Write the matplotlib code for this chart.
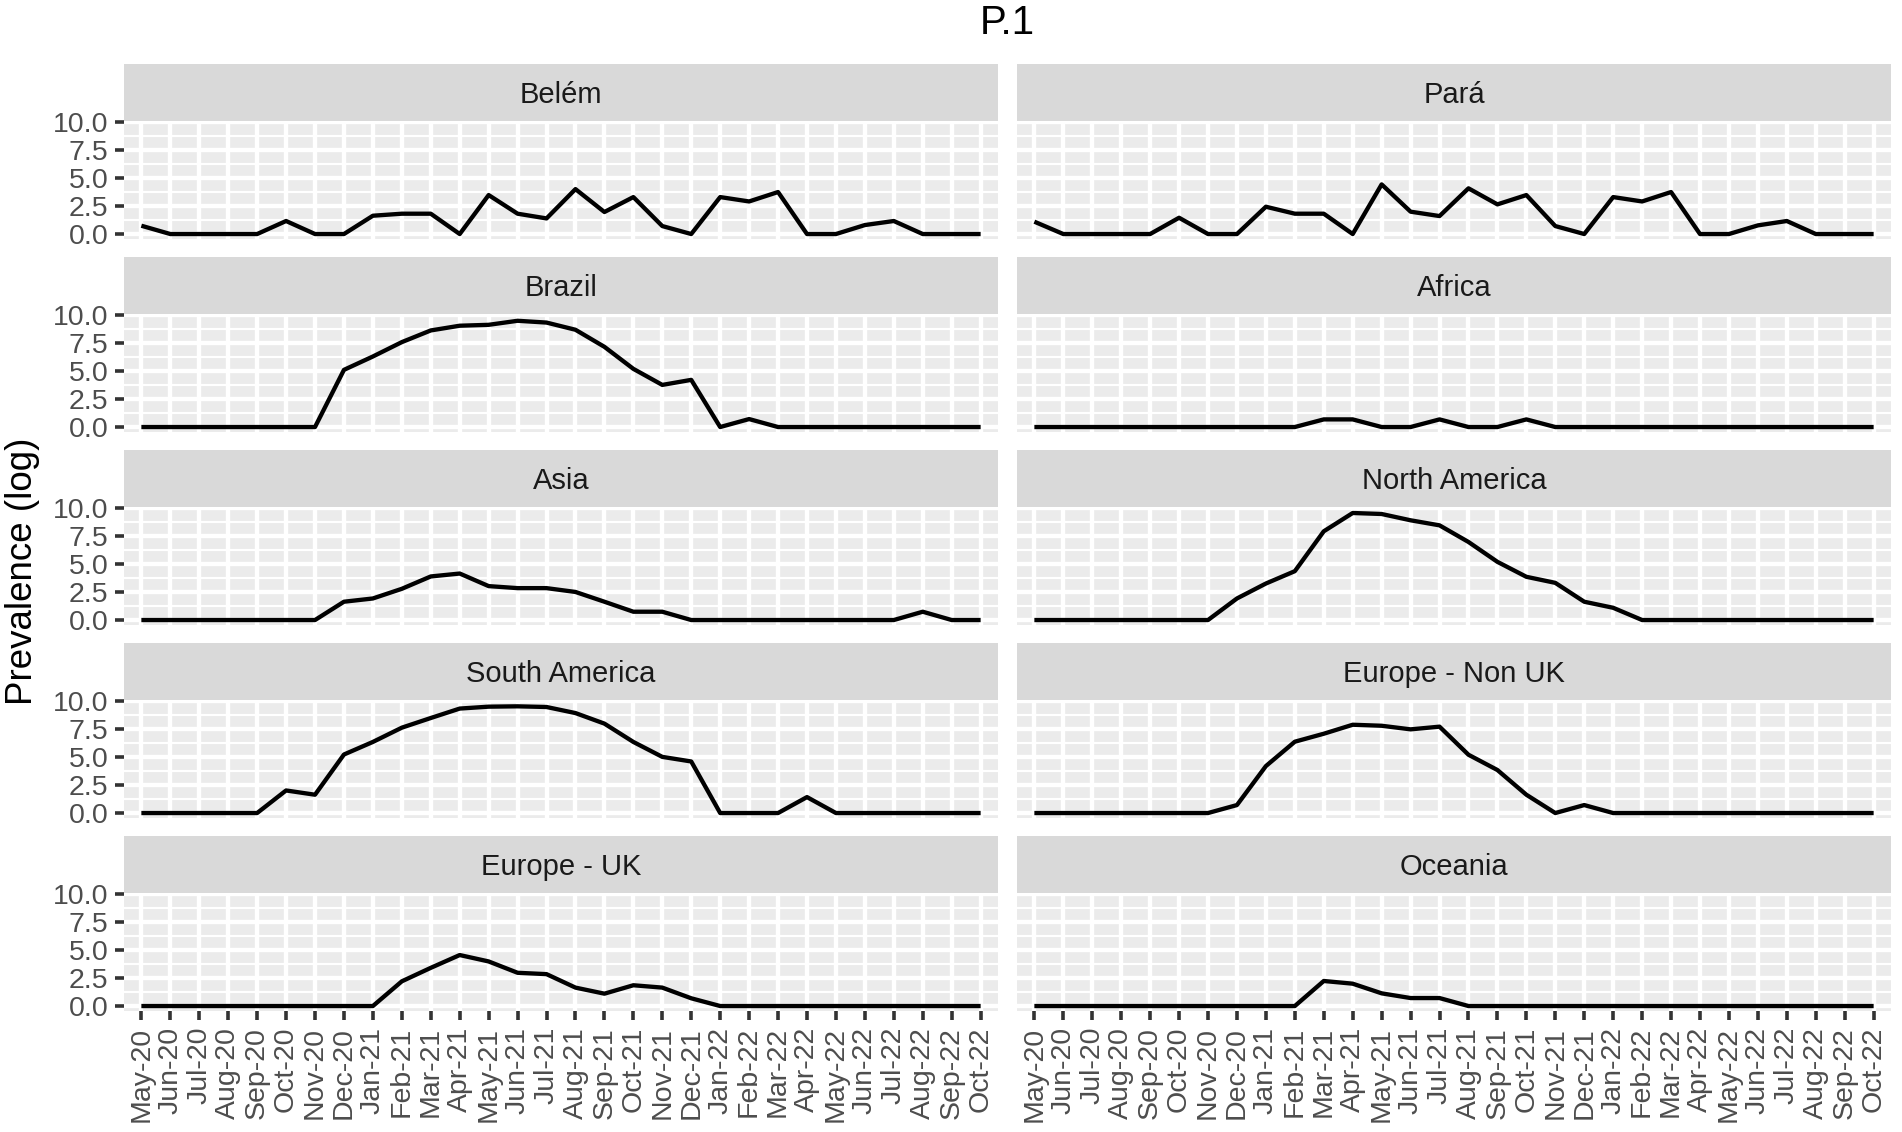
import matplotlib
matplotlib.use('Agg')
import matplotlib.pyplot as plt

plt.rcParams['font.family'] = ['Liberation Sans', 'DejaVu Sans']

months = ["May-20", "Jun-20", "Jul-20", "Aug-20", "Sep-20", "Oct-20", "Nov-20", "Dec-20",
          "Jan-21", "Feb-21", "Mar-21", "Apr-21", "May-21", "Jun-21", "Jul-21", "Aug-21",
          "Sep-21", "Oct-21", "Nov-21", "Dec-21", "Jan-22", "Feb-22", "Mar-22", "Apr-22",
          "May-22", "Jun-22", "Jul-22", "Aug-22", "Sep-22", "Oct-22"]

panels = ["Belém", "Pará", "Brazil", "Africa", "Asia", "North America",
          "South America", "Europe - Non UK", "Europe - UK", "Oceania"]

belem = [0.74, 0, 0, 0, 0, 1.16, 0, 0, 1.63, 1.81, 1.81, 0, 3.47, 1.81, 1.39, 4.0,
         1.96, 3.29, 0.71, 0, 3.29, 2.9, 3.74, 0, 0, 0.8, 1.16, 0, 0, 0]
para = [1.1, 0, 0, 0, 0, 1.45, 0, 0, 2.43, 1.81, 1.81, 0, 4.42, 1.99, 1.6, 4.07,
        2.64, 3.47, 0.71, 0, 3.29, 2.9, 3.74, 0, 0, 0.77, 1.16, 0, 0, 0]
brazil = [0, 0, 0, 0, 0, 0, 0, 5.09, 6.28, 7.56, 8.6, 9.02, 9.1, 9.46, 9.3, 8.66,
          7.14, 5.18, 3.75, 4.2, 0, 0.71, 0, 0, 0, 0, 0, 0, 0, 0]
africa = [0, 0, 0, 0, 0, 0, 0, 0, 0, 0, 0.68, 0.68, 0, 0, 0.68, 0,
          0, 0.68, 0, 0, 0, 0, 0, 0, 0, 0, 0, 0, 0, 0]
asia = [0, 0, 0, 0, 0, 0, 0, 1.63, 1.92, 2.78, 3.88, 4.14, 3.02, 2.84, 2.84, 2.5,
        1.63, 0.74, 0.74, 0, 0, 0, 0, 0, 0, 0, 0, 0.74, 0, 0]
north_america = [0, 0, 0, 0, 0, 0, 0, 1.92, 3.25, 4.35, 7.9, 9.53, 9.44, 8.88, 8.43, 6.95,
                 5.18, 3.85, 3.31, 1.63, 1.09, 0, 0, 0, 0, 0, 0, 0, 0, 0]
south_america = [0, 0, 0, 0, 0, 2.01, 1.63, 5.21, 6.33, 7.6, 8.46, 9.3, 9.47, 9.5, 9.44, 8.9,
                 7.96, 6.33, 5.0, 4.59, 0, 0, 0, 1.42, 0, 0, 0, 0, 0, 0]
europe_non_uk = [0, 0, 0, 0, 0, 0, 0, 0.71, 4.18, 6.35, 7.06, 7.86, 7.77, 7.45, 7.69, 5.19,
                 3.83, 1.63, 0, 0.71, 0, 0, 0, 0, 0, 0, 0, 0, 0, 0]
europe_uk = [0, 0, 0, 0, 0, 0, 0, 0, 0, 2.2, 3.4, 4.54, 3.97, 2.96, 2.84, 1.64,
             1.1, 1.85, 1.64, 0.69, 0, 0, 0, 0, 0, 0, 0, 0, 0, 0]
oceania = [0, 0, 0, 0, 0, 0, 0, 0, 0, 0, 2.23, 1.99, 1.13, 0.71, 0.71, 0,
           0, 0, 0, 0, 0, 0, 0, 0, 0, 0, 0, 0, 0, 0]

series = [belem, para, brazil, africa, asia, north_america,
          south_america, europe_non_uk, europe_uk, oceania]

y_ticks = [0.0, 2.5, 5.0, 7.5, 10.0]
y_minor = [1.25, 3.75, 6.25, 8.75]

W, H = 1902, 1132
fig = plt.figure(figsize=(W / 100, H / 100), dpi=100)
fig.patch.set_facecolor('white')


def rect(x0, ytop, w, h):
    return [x0 / W, 1 - (ytop + h) / H, w / W, h / H]


col_x = [124, 1017]
panel_w = 874
strip_h = 56.5
panel_h = 118.5
row_pitch = 193
first_top = 64.2

major_lw = 3.1
minor_lw = 1.55

for i, (name, vals) in enumerate(zip(panels, series)):
    r, c = divmod(i, 2)
    strip_top = first_top + row_pitch * r
    panel_top = strip_top + strip_h

    # strip
    sax = fig.add_axes(rect(col_x[c], strip_top, panel_w, strip_h))
    sax.set_facecolor('#D9D9D9')
    sax.set_xticks([])
    sax.set_yticks([])
    for s in sax.spines.values():
        s.set_visible(False)
    sax.text(0.5, 0.46, name, ha='center', va='center', fontsize=21,
             color='#1A1A1A', transform=sax.transAxes)

    ax = fig.add_axes(rect(col_x[c], panel_top, panel_w, panel_h))
    ax.set_facecolor('#EBEBEB')
    for s in ax.spines.values():
        s.set_visible(False)
    ax.set_axisbelow(True)
    x = list(range(len(months)))
    ax.plot(x, vals, color='black', lw=3.1, solid_joinstyle='round',
            solid_capstyle='butt', zorder=3)
    ax.set_xlim(-0.6, len(months) - 1 + 0.6)
    ax.set_ylim(-0.46, 10.09)
    ax.set_xticks(x)
    ax.set_yticks(y_ticks)
    ax.set_yticks(y_minor, minor=True)
    ax.grid(which='major', color='white', lw=major_lw)
    ax.grid(which='minor', axis='y', color='white', lw=minor_lw)
    ax.tick_params(which='minor', length=0)
    ax.tick_params(which='major', color='#333333', width=2.6, length=6.3,
                   labelcolor='#4D4D4D', labelsize=20.5, pad=5)

    if r == 4:
        ax.set_xticklabels(months, rotation=90, ha='center', va='top')
    else:
        ax.tick_params(axis='x', length=0, labelbottom=False)

    if c == 0:
        ax.set_yticklabels([f"{v:.1f}" for v in y_ticks])
    else:
        ax.tick_params(axis='y', length=0, labelleft=False)

fig.text(1007 / W, 1 - 23 / H, "P.1", ha='center', va='center', fontsize=29, color='black')
fig.text(23 / W, 1 - 571 / H, "Prevalence (log)", rotation=90, ha='center', va='center',
         fontsize=26.5, color='black')

fig.savefig('out.png', dpi=100, facecolor='white')
